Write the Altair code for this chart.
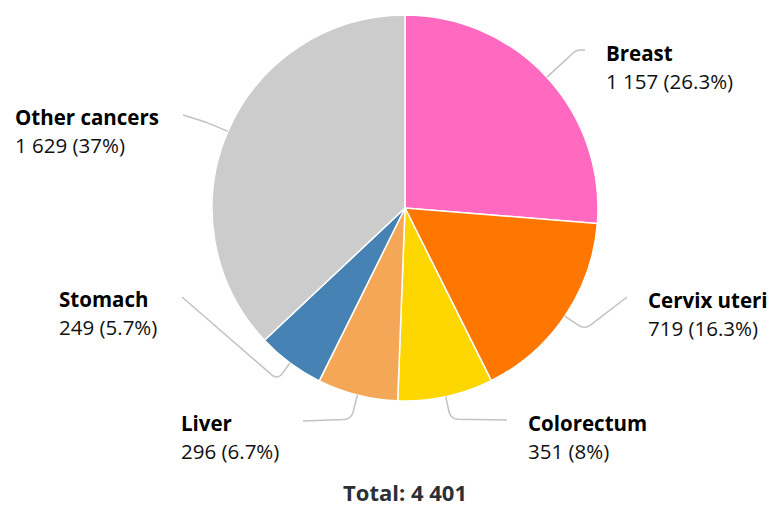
import math
import altair as alt
import pandas as pd

# ---- data ----
cancers = ["Breast", "Cervix uteri", "Colorectum", "Liver", "Stomach", "Other cancers"]
cases = [1157, 719, 351, 296, 249, 1629]
colors = ["#ff69c0", "#ff7700", "#ffd700", "#f4a857", "#4682b4", "#cccccc"]

# ---- layout (view pixels) ----
W, H = 762, 497
CX, CY, R = 397, 200, 193
FONT = "Open Sans"
label_pos = {  # name x, name y (value sits one line below)
    "Breast": (598, 47),
    "Cervix uteri": (640, 294),
    "Colorectum": (520, 417),
    "Liver": (173, 417),
    "Stomach": (51, 293),
    "Other cancers": (7, 111),
}
line_end = {
    "Breast": (577, 42),
    "Cervix uteri": (619, 289),
    "Colorectum": (499, 412),
    "Liver": (295, 413),
    "Stomach": (174, 289),
    "Other cancers": (175, 107),
}
crook = {"Breast": 40, "Cervix uteri": 24, "Colorectum": 23, "Liver": 25,
         "Stomach": 21, "Other cancers": 22}
LINE_GAP = 28

total = sum(cases)


def fmt_int(n):
    return f"{n:,}".replace(",", " ")


def fmt_pct(v):
    s = f"{v / total * 100:.1f}"
    return s[:-2] if s.endswith(".0") else s


slices = pd.DataFrame({
    "cancer": cancers,
    "cases": cases,
    "idx": list(range(len(cancers))),
    "value_label": [f"{fmt_int(c)} ({fmt_pct(c)}%)" for c in cases],
})
slices["lx"] = [label_pos[c][0] for c in cancers]
slices["ly"] = [label_pos[c][1] for c in cancers]
slices["vy"] = slices["ly"] + LINE_GAP

# connector paths computed from slice mid-angles
rows = []
cum = 0
for c, v in zip(cancers, cases):
    mid = 2 * math.pi * (cum + v / 2) / total
    cum += v
    sx, sy = math.sin(mid), -math.cos(mid)
    p0 = (CX + R * sx, CY + R * sy)
    k = crook[c]
    p1 = (CX + (R + k) * sx, CY + (R + k) * sy)
    p2 = line_end[c]

    def towards(a, b, d):
        dx, dy = b[0] - a[0], b[1] - a[1]
        L = math.hypot(dx, dy) or 1
        return (a[0] + dx / L * d, a[1] + dy / L * d)

    rad = min(8, 0.45 * math.dist(p0, p1), 0.45 * math.dist(p1, p2))
    a = towards(p1, p0, rad)
    b = towards(p1, p2, rad)
    pts = [p0]
    n = 8
    for i in range(n + 1):
        t = i / n
        x = (1 - t) ** 2 * a[0] + 2 * (1 - t) * t * p1[0] + t ** 2 * b[0]
        y = (1 - t) ** 2 * a[1] + 2 * (1 - t) * t * p1[1] + t ** 2 * b[1]
        pts.append((x, y))
    pts.append(p2)
    for j, (x, y) in enumerate(pts):
        rows.append({"cancer": c, "seq": j, "px": x, "py": y})
lines = pd.DataFrame(rows)

total_df = pd.DataFrame({"t": [f"Total: {fmt_int(total)}"], "x": [CX], "y": [486]})

xs = alt.Scale(domain=[0, W], nice=False, zero=False)
ys = alt.Scale(domain=[0, H], nice=False, zero=False, reverse=True)

pie = alt.Chart(slices).mark_arc(outerRadius=R, stroke="white", strokeWidth=1.5).encode(
    theta=alt.Theta("cases:Q", stack=True),
    color=alt.Color("cancer:N", scale=alt.Scale(domain=cancers, range=colors), legend=None),
    order=alt.Order("idx:Q"),
    x=alt.value(CX),
    y=alt.value(CY),
)

conn = alt.Chart(lines).mark_line(color="#c2c2c2", strokeWidth=1.5).encode(
    x=alt.X("px:Q", scale=xs, axis=None),
    y=alt.Y("py:Q", scale=ys, axis=None),
    detail="cancer:N",
    order="seq:Q",
)

names = alt.Chart(slices).mark_text(
    align="left", baseline="middle", font=FONT, fontSize=20.5, fontWeight="bold", color="#000000"
).encode(
    x=alt.X("lx:Q", scale=xs, axis=None),
    y=alt.Y("ly:Q", scale=ys, axis=None),
    text="cancer:N",
)

vals = alt.Chart(slices).mark_text(
    align="left", baseline="middle", font=FONT, fontSize=20.5, color="#111111"
).encode(
    x=alt.X("lx:Q", scale=xs, axis=None),
    y=alt.Y("vy:Q", scale=ys, axis=None),
    text="value_label:N",
)

tot = alt.Chart(total_df).mark_text(
    align="center", baseline="middle", font=FONT, fontSize=22, fontWeight="bold", color="#2b2f36"
).encode(
    x=alt.X("x:Q", scale=xs, axis=None),
    y=alt.Y("y:Q", scale=ys, axis=None),
    text="t:N",
)

chart = alt.layer(pie, conn, names, vals, tot).properties(
    width=W, height=H, padding=0, background="white"
).configure_view(strokeWidth=0)

chart.save("out.html", embed_options={"renderer": "svg", "actions": False})
